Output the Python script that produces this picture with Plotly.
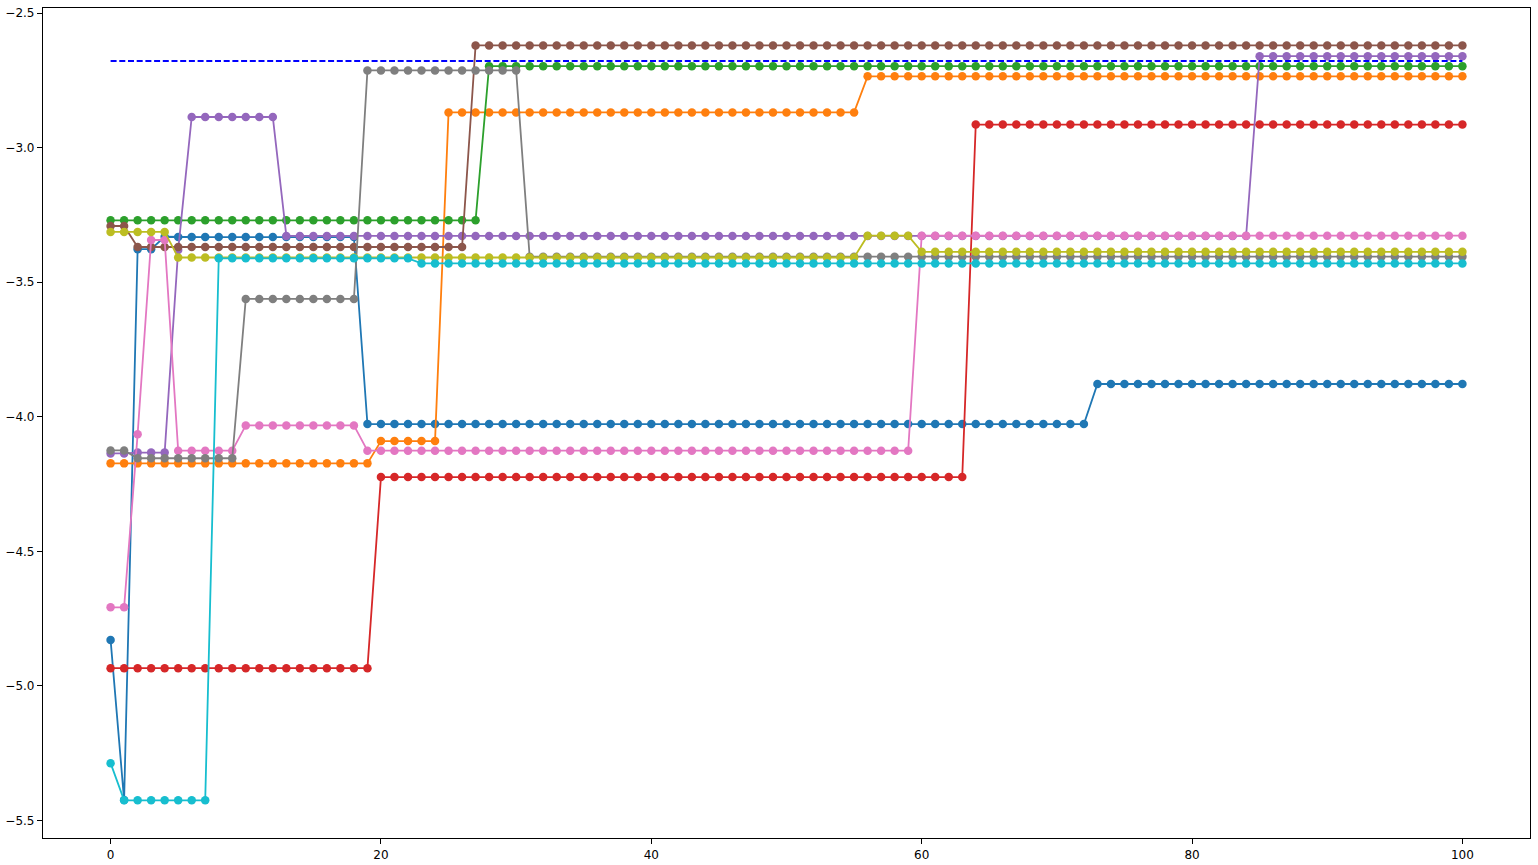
import plotly.graph_objects as go

x = list(range(101))

s_blue = [-4.829, -5.424, -3.377, -3.377, -3.331] + [-3.332] * 14 + [-4.027] * 54 + [-3.878] * 28
s_orange = [-4.173] * 20 + [-4.090] * 5 + [-2.869] * 31 + [-2.735] * 45
s_green = [-3.270] * 28 + [-2.697] * 73
s_red = [-4.934] * 20 + [-4.224] * 44 + [-2.914] * 37
s_purple = [-4.136] * 2 + [-4.133] * 3 + [-3.380] + [-2.886] * 7 + [-3.328] * 72 + [-2.660] * 16
s_brown = [-3.291] * 2 + [-3.369] * 25 + [-2.620] * 74
s_pink = [-4.708] * 2 + [-4.065] + [-3.343] * 2 + [-4.126] * 5 + [-4.032] * 9 + [-4.126] * 41 + [-3.327] * 41
s_gray = [-4.125] * 2 + [-4.154] * 8 + [-3.562] * 9 + [-2.713] * 12 + [-3.405] * 70
s_olive = [-3.313] * 5 + [-3.408] * 51 + [-3.327] * 4 + [-3.387] * 41
s_cyan = [-5.287] + [-5.425] * 7 + [-3.411] * 15 + [-3.430] * 78

ref_x = [0, 100]
ref_y = [-2.678, -2.678]

series = [s_blue, s_orange, s_green, s_red, s_purple, s_brown, s_pink, s_gray, s_olive, s_cyan]
colors = ["#1f77b4", "#ff7f0e", "#2ca02c", "#d62728", "#9467bd",
          "#8c564b", "#e377c2", "#7f7f7f", "#bcbd22", "#17becf"]

fig = go.Figure()
for ys, c in zip(series, colors):
    fig.add_trace(go.Scatter(x=x, y=ys, mode="lines+markers",
                             line=dict(color=c, width=1.8),
                             marker=dict(color=c, size=8.5),
                             showlegend=False))
fig.add_trace(go.Scatter(x=ref_x, y=ref_y, mode="lines",
                         line=dict(color="#0000ff", width=1.8, dash="6px,2.7px"),
                         showlegend=False))

axis_common = dict(showline=True, mirror=True, linecolor="black", linewidth=1.2,
                   ticks="outside", ticklen=5, tickcolor="black", tickwidth=1,
                   showgrid=False, zeroline=False, automargin=False,
                   tickfont=dict(family="DejaVu Sans", size=12, color="black"))
fig.update_layout(
    width=1538, height=865,
    margin=dict(l=43, r=8, t=8, b=27),
    plot_bgcolor="white", paper_bgcolor="white",
    xaxis=dict(range=[-5, 105], tickmode="array", tickvals=[0, 20, 40, 60, 80, 100], **axis_common),
    yaxis=dict(range=[-5.565, -2.481], tickmode="array",
               tickvals=[-5.5, -5.0, -4.5, -4.0, -3.5, -3.0, -2.5],
               ticktext=["\u22125.5", "\u22125.0", "\u22124.5", "\u22124.0", "\u22123.5", "\u22123.0", "\u22122.5"],
               **axis_common),
)
fig.write_html("out.html")
